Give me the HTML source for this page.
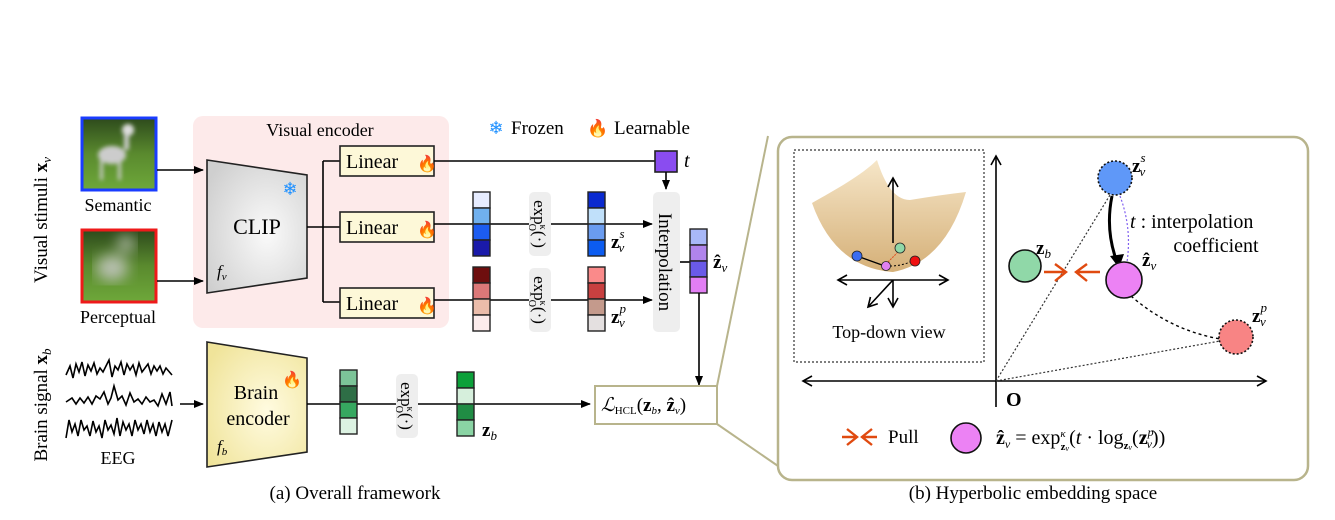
<!DOCTYPE html>
<html><head><meta charset="utf-8"><style>
html,body{margin:0;padding:0;background:#fff;}
svg{display:block;font-family:"Liberation Serif",serif;}
</style></head><body>
<svg width="1335" height="520" viewBox="0 0 1335 520" xmlns="http://www.w3.org/2000/svg">
<defs>
<marker id="ar" markerWidth="10" markerHeight="10" refX="9" refY="5" orient="auto" markerUnits="userSpaceOnUse"><path d="M0,1 L10,5 L0,9 z" fill="#000"/></marker>
<marker id="op" markerWidth="12" markerHeight="12" refX="10" refY="6" orient="auto-start-reverse" markerUnits="userSpaceOnUse"><path d="M1,1 L10,6 L1,11" fill="none" stroke="#000" stroke-width="1.6"/></marker>
<filter id="bl"><feGaussianBlur stdDeviation="2"/></filter>
<filter id="bl2"><feGaussianBlur stdDeviation="7"/></filter>
<radialGradient id="gclip" cx="0.6" cy="0.55" r="0.7"><stop offset="0" stop-color="#fafafa"/><stop offset="1" stop-color="#cfcfcf"/></radialGradient>
<radialGradient id="gbrain" cx="0.6" cy="0.55" r="0.7"><stop offset="0" stop-color="#fffbe0"/><stop offset="1" stop-color="#f0e49a"/></radialGradient>
<linearGradient id="bowl" x1="0" y1="0" x2="0" y2="1"><stop offset="0" stop-color="#f6e6c8"/><stop offset="1" stop-color="#d5b078"/></linearGradient>
<linearGradient id="grass" x1="0" y1="0" x2="0" y2="1"><stop offset="0" stop-color="#2d4a1c"/><stop offset="0.5" stop-color="#5a8a2e"/><stop offset="1" stop-color="#6ea83a"/></linearGradient>
</defs>

<!-- side labels -->
<text transform="translate(47,220) rotate(-90)" font-size="19" text-anchor="middle">Visual stimuli <tspan font-weight="bold">x</tspan><tspan font-style="italic" font-size="13" dy="4">v</tspan></text>
<text transform="translate(47,405) rotate(-90)" font-size="19" text-anchor="middle">Brain signal <tspan font-weight="bold">x</tspan><tspan font-style="italic" font-size="13" dy="4">b</tspan></text>

<!-- images -->
<rect x="82" y="118" width="74" height="72" fill="url(#grass)"/>
<g filter="url(#bl)"><ellipse cx="112" cy="155" rx="14" ry="9" fill="#ccc"/><circle cx="128" cy="130" r="6" fill="#ddd"/><rect x="100" y="158" width="3" height="22" fill="#ccc"/><rect x="118" y="158" width="3" height="22" fill="#ccc"/><rect x="124" y="134" width="5" height="16" fill="#ccc"/></g>
<rect x="82" y="118" width="74" height="72" fill="none" stroke="#1a3cff" stroke-width="3"/>
<text x="118" y="211" font-size="18" text-anchor="middle">Semantic</text>
<rect x="82" y="230" width="74" height="72" fill="url(#grass)"/>
<g filter="url(#bl2)"><ellipse cx="112" cy="268" rx="16" ry="13" fill="#b8c0b0"/><circle cx="126" cy="244" r="8" fill="#b8c0b0"/></g>
<rect x="82" y="230" width="74" height="72" fill="none" stroke="#ee1a1a" stroke-width="3"/>
<text x="118" y="323" font-size="18" text-anchor="middle">Perceptual</text>

<!-- visual encoder -->
<rect x="193" y="116" width="256" height="212" rx="10" fill="#fdeaea"/>
<text x="320" y="136" font-size="18" text-anchor="middle">Visual encoder</text>
<line x1="157" y1="170" x2="203" y2="170" stroke="#000" stroke-width="1.6" marker-end="url(#ar)"/>
<line x1="157" y1="281" x2="203" y2="281" stroke="#000" stroke-width="1.6" marker-end="url(#ar)"/>
<polygon points="207,160 307,175 307,278 207,293" fill="url(#gclip)" stroke="#222" stroke-width="1.6"/>
<text x="257" y="234" font-size="22" text-anchor="middle">CLIP</text>
<text x="217" y="277" font-size="17" font-style="italic">f<tspan font-size="11" dy="3">v</tspan></text>
<text x="290" y="195" font-size="18" text-anchor="middle" fill="#1e90ff">❄</text>
<path d="M307,227 H323 M323,161 V302 M323,161 H340 M323,227 H340 M323,302 H340" fill="none" stroke="#000" stroke-width="1.6"/>
<g font-size="20">
<rect x="340" y="146" width="94" height="30" fill="#fdf8d8" stroke="#222" stroke-width="1.6"/><text x="346" y="168">Linear</text><text x="417" y="169" font-size="16" fill="#f05a14">🔥</text>
<rect x="340" y="212" width="94" height="30" fill="#fdf8d8" stroke="#222" stroke-width="1.6"/><text x="346" y="234">Linear</text><text x="417" y="235" font-size="16" fill="#f05a14">🔥</text>
<rect x="340" y="288" width="94" height="30" fill="#fdf8d8" stroke="#222" stroke-width="1.6"/><text x="346" y="310">Linear</text><text x="417" y="311" font-size="16" fill="#f05a14">🔥</text>
</g>

<!-- legend -->
<text x="496" y="134" font-size="18" fill="#1e90ff" text-anchor="middle">❄</text>
<text x="511" y="134" font-size="19">Frozen</text>
<text x="598" y="134" font-size="17" fill="#f05a14" text-anchor="middle">🔥</text>
<text x="614" y="134" font-size="19">Learnable</text>

<!-- t -->
<line x1="434" y1="161" x2="655" y2="161" stroke="#000" stroke-width="1.6"/>
<rect x="655" y="151" width="22" height="21" fill="#8a4cf0" stroke="#222" stroke-width="1.6"/>
<text x="684" y="167" font-size="20" font-style="italic">t</text>
<line x1="666" y1="172" x2="666" y2="189" stroke="#000" stroke-width="1.6" marker-end="url(#ar)"/>

<line x1="434" y1="224" x2="652" y2="224" stroke="#000" stroke-width="1.6" marker-end="url(#ar)"/>
<line x1="434" y1="300" x2="652" y2="300" stroke="#000" stroke-width="1.6" marker-end="url(#ar)"/>
<g stroke="#222" stroke-width="1.4">
<rect x="473" y="192" width="17" height="16" fill="#e6ecff"/><rect x="473" y="208" width="17" height="16" fill="#70b0ee"/><rect x="473" y="224" width="17" height="16" fill="#1c5cf0"/><rect x="473" y="240" width="17" height="16" fill="#1a1aaa"/>
<rect x="588" y="192" width="17" height="16" fill="#0a2ad0"/><rect x="588" y="208" width="17" height="16" fill="#c0e0fa"/><rect x="588" y="224" width="17" height="16" fill="#6a9cf0"/><rect x="588" y="240" width="17" height="16" fill="#0c5cf0"/>
<rect x="473" y="267" width="17" height="16" fill="#6e0e0e"/><rect x="473" y="283" width="17" height="16" fill="#dc7878"/><rect x="473" y="299" width="17" height="16" fill="#ebbcaa"/><rect x="473" y="315" width="17" height="16" fill="#fcecec"/>
<rect x="588" y="267" width="17" height="16" fill="#fa8a8a"/><rect x="588" y="283" width="17" height="16" fill="#c84040"/><rect x="588" y="299" width="17" height="16" fill="#c49a8c"/><rect x="588" y="315" width="17" height="16" fill="#e4e0e0"/>
</g>
<rect x="529" y="192" width="22" height="64" rx="5" fill="#eeeeee"/>
<rect x="529" y="268" width="22" height="64" rx="5" fill="#eeeeee"/>
<text transform="translate(534,224) rotate(90)" font-size="17" text-anchor="middle">exp<tspan font-size="10" dy="-6">κ</tspan><tspan font-size="10" dx="-6" dy="11">O</tspan><tspan dy="-5">(·)</tspan></text>
<text transform="translate(534,300) rotate(90)" font-size="17" text-anchor="middle">exp<tspan font-size="10" dy="-6">κ</tspan><tspan font-size="10" dx="-6" dy="11">O</tspan><tspan dy="-5">(·)</tspan></text>
<text x="611" y="248" font-size="19" font-weight="bold">z<tspan font-size="13" font-style="italic" font-weight="normal" dy="-10">s</tspan><tspan font-size="13" font-style="italic" font-weight="normal" dx="-6" dy="14">v</tspan></text>
<text x="611" y="323" font-size="19" font-weight="bold">z<tspan font-size="13" font-style="italic" font-weight="normal" dy="-10">p</tspan><tspan font-size="13" font-style="italic" font-weight="normal" dx="-7" dy="14">v</tspan></text>

<!-- interpolation -->
<rect x="653" y="192" width="27" height="140" rx="5" fill="#eeeeee"/>
<text transform="translate(659,262) rotate(90)" font-size="19" text-anchor="middle">Interpolation</text>
<line x1="680" y1="262" x2="690" y2="262" stroke="#000" stroke-width="1.6"/>
<g stroke="#222" stroke-width="1.4">
<rect x="690" y="229" width="17" height="16" fill="#a8b8f8"/><rect x="690" y="245" width="17" height="16" fill="#b084ec"/><rect x="690" y="261" width="17" height="16" fill="#6a5ae8"/><rect x="690" y="277" width="17" height="16" fill="#e27ef4"/>
</g>
<text x="713" y="268" font-size="19" font-weight="bold">ẑ<tspan font-size="13" font-style="italic" font-weight="normal" dy="4">v</tspan></text>
<line x1="699" y1="293" x2="699" y2="385" stroke="#000" stroke-width="1.6" marker-end="url(#ar)"/>

<!-- brain -->
<g fill="none" stroke="#000" stroke-width="1.6">
<polyline points="66,375 70,366 73,378 76,364 79,372 82,362 85,376 88,365 91,371 94,363 97,374 100,368 103,372 106,366 109,360 112,377 115,366 118,370 121,362 124,375 127,364 130,370 133,365 136,375 139,363 142,372 145,368 148,364 151,374 154,366 157,371 160,366 163,374 166,368 172,375"/>
<polyline points="66,402 72,398 76,404 80,398 84,403 88,397 92,404 96,396 100,399 104,392 108,404 111,398 114,386 118,400 122,396 126,405 130,393 134,402 138,399 142,404 146,397 150,402 154,400 158,406 162,394 166,404 170,392 172,406"/>
<polyline points="66,438 69,420 72,432 75,424 78,436 81,420 84,430 87,426 90,436 93,421 96,432 99,426 102,438 105,420 108,430 111,425 114,434 117,418 120,436 123,422 126,430 129,424 132,436 135,420 138,430 141,424 144,434 147,420 150,432 153,424 156,436 159,422 162,432 165,424 168,436 172,420"/>
</g>
<text x="118" y="464" font-size="18" text-anchor="middle">EEG</text>
<line x1="180" y1="404" x2="203" y2="404" stroke="#000" stroke-width="1.6" marker-end="url(#ar)"/>
<polygon points="207,342 307,358 307,452 207,467" fill="url(#gbrain)" stroke="#222" stroke-width="1.6"/>
<text x="256" y="399" font-size="20" text-anchor="middle">Brain</text>
<text x="258" y="425" font-size="20" text-anchor="middle">encoder</text>
<text x="217" y="452" font-size="17" font-style="italic">f<tspan font-size="11" dy="3">b</tspan></text>
<text x="292" y="385" font-size="16" fill="#f05a14" text-anchor="middle">🔥</text>
<line x1="307" y1="404" x2="590" y2="404" stroke="#000" stroke-width="1.6" marker-end="url(#ar)"/>
<g stroke="#222" stroke-width="1.4">
<rect x="340" y="370" width="17" height="16" fill="#7cc498"/><rect x="340" y="386" width="17" height="16" fill="#2e6e46"/><rect x="340" y="402" width="17" height="16" fill="#36a860"/><rect x="340" y="418" width="17" height="16" fill="#dcf2e2"/>
<rect x="457" y="372" width="17" height="16" fill="#0ca03a"/><rect x="457" y="388" width="17" height="16" fill="#d6efdc"/><rect x="457" y="404" width="17" height="16" fill="#208c44"/><rect x="457" y="420" width="17" height="16" fill="#8ad4a4"/>
</g>
<rect x="396" y="374" width="22" height="64" rx="5" fill="#eeeeee"/>
<text transform="translate(401,406) rotate(90)" font-size="17" text-anchor="middle">exp<tspan font-size="10" dy="-6">κ</tspan><tspan font-size="10" dx="-6" dy="11">O</tspan><tspan dy="-5">(·)</tspan></text>
<text x="482" y="436" font-size="19" font-weight="bold">z<tspan font-size="13" font-style="italic" font-weight="normal" dy="4">b</tspan></text>

<!-- loss box -->
<rect x="595" y="386" width="122" height="38" fill="#fff" stroke="#b8b48c" stroke-width="2"/>
<text x="601" y="411" font-size="19"><tspan font-style="italic">ℒ</tspan><tspan font-size="11" dy="3">HCL</tspan><tspan dy="-3">(</tspan><tspan font-weight="bold">z</tspan><tspan font-size="11" font-style="italic" dy="3">b</tspan><tspan dy="-3">, </tspan><tspan font-weight="bold">ẑ</tspan><tspan font-size="11" font-style="italic" dy="3">v</tspan><tspan dy="-3">)</tspan></text>
<line x1="717" y1="386" x2="768" y2="136" stroke="#b8b48c" stroke-width="2"/>
<line x1="717" y1="424" x2="778" y2="466" stroke="#b8b48c" stroke-width="2"/>
<text x="355" y="499" font-size="19" text-anchor="middle">(a) Overall framework</text>

<!-- right panel -->
<rect x="778" y="137" width="530" height="343" rx="14" fill="#fff" stroke="#b8b48c" stroke-width="2.5"/>
<rect x="794" y="150" width="190" height="212" fill="none" stroke="#333" stroke-width="1.2" stroke-dasharray="2,2"/>
<path d="M812,203 C835,190 862,175 877,160 C885,185 895,200 910,200 Q940,195 966,192 Q945,262 893,272 Q835,268 812,203 z" fill="url(#bowl)"/>
<line x1="893" y1="243" x2="893" y2="178" stroke="#000" stroke-width="1.6" marker-end="url(#op)"/>
<line x1="838" y1="280" x2="948" y2="280" stroke="#000" stroke-width="1.6" marker-start="url(#op)" marker-end="url(#op)"/>
<line x1="893" y1="280" x2="893" y2="307" stroke="#000" stroke-width="1.6" marker-end="url(#op)"/>
<line x1="893" y1="280" x2="868" y2="307" stroke="#000" stroke-width="1.6" marker-end="url(#op)"/>
<line x1="857" y1="256" x2="882" y2="265" stroke="#000" stroke-width="1.4"/>
<path d="M890,266 Q902,266 912,261" fill="none" stroke="#000" stroke-width="1" stroke-dasharray="2,2"/>
<line x1="888" y1="262" x2="897" y2="253" stroke="#e05020" stroke-width="1" stroke-dasharray="2,1"/>
<circle cx="857" cy="256" r="5" fill="#3a6cf0" stroke="#222" stroke-width="0.8"/>
<circle cx="900" cy="248" r="5" fill="#90d8a8" stroke="#222" stroke-width="0.8"/>
<circle cx="886" cy="266" r="4.5" fill="#e080f0" stroke="#222" stroke-width="0.8"/>
<circle cx="915" cy="261" r="5" fill="#f01010" stroke="#222" stroke-width="0.8"/>
<text x="889" y="338" font-size="18" text-anchor="middle">Top-down view</text>

<line x1="996" y1="407" x2="996" y2="156" stroke="#000" stroke-width="1.6" marker-end="url(#op)"/>
<line x1="803" y1="381" x2="1266" y2="381" stroke="#000" stroke-width="1.6" marker-start="url(#op)" marker-end="url(#op)"/>
<text x="1006" y="406" font-size="20" font-weight="bold">O</text>
<line x1="996" y1="381" x2="1110" y2="195" stroke="#333" stroke-width="1.2" stroke-dasharray="2,2"/>
<line x1="996" y1="381" x2="1220" y2="341" stroke="#333" stroke-width="1.2" stroke-dasharray="2,2"/>
<path d="M1131,296 Q1170,330 1220,339" fill="none" stroke="#000" stroke-width="1.4" stroke-dasharray="3,3"/>
<path d="M1120,196 Q1132,228 1127,262" fill="none" stroke="#8060f0" stroke-width="1.2" stroke-dasharray="2,2"/>
<path d="M1112,196 Q1105,230 1117,262" fill="none" stroke="#000" stroke-width="3"/>
<path d="M1110,256 L1119,268 L1124,254 z" fill="#000"/>
<circle cx="1115" cy="178" r="17" fill="#5f98f8" stroke="#111" stroke-width="1.6" stroke-dasharray="2,2"/>
<circle cx="1025" cy="266" r="16" fill="#90d8a8" stroke="#111" stroke-width="1.6"/>
<circle cx="1124" cy="280" r="18" fill="#ec82f4" stroke="#111" stroke-width="1.6"/>
<circle cx="1236" cy="337" r="17" fill="#f88484" stroke="#111" stroke-width="1.6" stroke-dasharray="2,2"/>
<text x="1132" y="172" font-size="19" font-weight="bold">z<tspan font-size="13" font-style="italic" font-weight="normal" dy="-10">s</tspan><tspan font-size="13" font-style="italic" font-weight="normal" dx="-6" dy="14">v</tspan></text>
<text x="1036" y="254" font-size="19" font-weight="bold">z<tspan font-size="13" font-style="italic" font-weight="normal" dy="4">b</tspan></text>
<text x="1142" y="266" font-size="19" font-weight="bold">ẑ<tspan font-size="13" font-style="italic" font-weight="normal" dy="4">v</tspan></text>
<text x="1252" y="322" font-size="19" font-weight="bold">z<tspan font-size="13" font-style="italic" font-weight="normal" dy="-10">p</tspan><tspan font-size="13" font-style="italic" font-weight="normal" dx="-7" dy="14">v</tspan></text>
<text x="1130" y="228" font-size="20"><tspan font-style="italic">t</tspan> : interpolation</text>
<text x="1216" y="252" font-size="20" text-anchor="middle">coefficient</text>
<g fill="none" stroke="#e04a10" stroke-width="2.4">
<path d="M1044,272 H1066 M1055,264 L1066,272 L1055,281"/>
<path d="M1100,272 H1076 M1087,264 L1076,272 L1087,281"/>
<path d="M842,437 H857 M847,429 L857,437 L847,445"/>
<path d="M877,437 H862 M872,429 L862,437 L872,445"/>
</g>
<text x="888" y="443" font-size="19">Pull</text>
<circle cx="966" cy="438" r="15" fill="#ec82f4" stroke="#111" stroke-width="1.6"/>
<text x="996" y="444" font-size="20"><tspan font-weight="bold">ẑ</tspan><tspan font-size="12" font-style="italic" dy="4">v</tspan><tspan dy="-4"> = exp</tspan><tspan font-size="11" font-style="italic" dy="-7">κ</tspan><tspan font-size="11" font-weight="bold" dx="-5" dy="13">z</tspan><tspan font-size="8" font-style="italic" dy="1">v</tspan><tspan dy="-7">(</tspan><tspan font-style="italic">t</tspan><tspan> · log</tspan><tspan font-size="11" font-weight="bold" dy="5">z</tspan><tspan font-size="8" font-style="italic" dy="1">v</tspan><tspan dy="-6">(</tspan><tspan font-weight="bold">z</tspan><tspan font-size="12" font-style="italic" dy="-8">p</tspan><tspan font-size="12" font-style="italic" dx="-7" dy="12">v</tspan><tspan dy="-4">))</tspan></text>
<text x="1033" y="499" font-size="19" text-anchor="middle">(b) Hyperbolic embedding space</text>
</svg>
</body></html>
